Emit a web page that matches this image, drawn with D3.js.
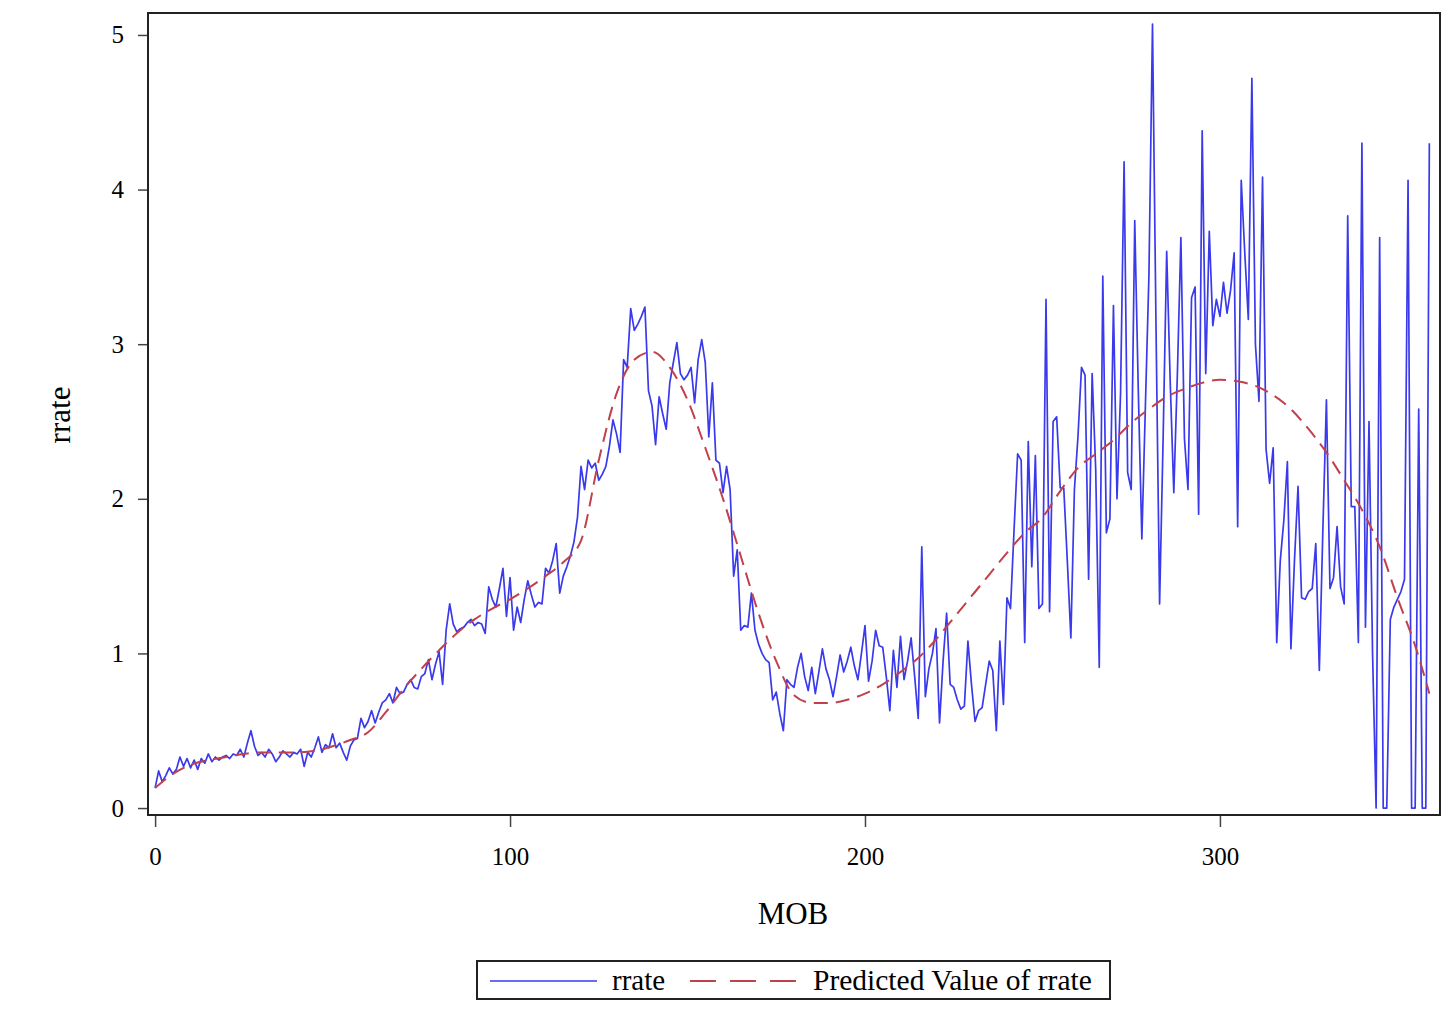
<!DOCTYPE html>
<html>
<head>
<meta charset="utf-8">
<script src="https://cdn.jsdelivr.net/npm/d3@7"></script>
<style>
  body { margin: 0; background: #fff; }
  text { font-family: "Liberation Serif", "DejaVu Serif", serif; fill: #000; }
</style>
</head>
<body>
<div id="chart"></div>
<script>
// rrate by MOB (index = MOB, 0..359)
var rrate = [
  0.13, 0.24, 0.17, 0.21, 0.26, 0.22, 0.25, 0.33, 0.27, 0.32,
  0.26, 0.31, 0.25, 0.32, 0.29, 0.35, 0.30, 0.33, 0.31, 0.33,
  0.34, 0.32, 0.35, 0.34, 0.38, 0.33, 0.42, 0.50, 0.40, 0.34,
  0.36, 0.33, 0.38, 0.35, 0.30, 0.33, 0.37, 0.35, 0.33, 0.36,
  0.35, 0.38, 0.27, 0.36, 0.33, 0.39, 0.46, 0.36, 0.41, 0.39,
  0.48, 0.39, 0.42, 0.36, 0.31, 0.40, 0.44, 0.45, 0.58, 0.52,
  0.56, 0.63, 0.55, 0.62, 0.68, 0.70, 0.74, 0.68, 0.78, 0.74,
  0.75, 0.80, 0.83, 0.78, 0.77, 0.85, 0.87, 0.96, 0.83, 0.93,
  1.01, 0.80, 1.15, 1.32, 1.19, 1.14, 1.16, 1.17, 1.20, 1.22,
  1.18, 1.20, 1.19, 1.13, 1.43, 1.35, 1.30, 1.42, 1.55, 1.24,
  1.49, 1.15, 1.30, 1.20, 1.35, 1.47, 1.38, 1.30, 1.33, 1.32,
  1.55, 1.52, 1.60, 1.71, 1.39, 1.50, 1.56, 1.63, 1.72, 1.88,
  2.21, 2.06, 2.25, 2.20, 2.23, 2.12, 2.16, 2.21, 2.34, 2.51,
  2.42, 2.30, 2.90, 2.85, 3.23, 3.09, 3.13, 3.18, 3.24, 2.70,
  2.60, 2.35, 2.66, 2.55, 2.45, 2.75, 2.88, 3.01, 2.81, 2.77,
  2.80, 2.85, 2.62, 2.90, 3.03, 2.88, 2.40, 2.75, 2.25, 2.23,
  2.04, 2.21, 2.06, 1.50, 1.67, 1.15, 1.18, 1.17, 1.39, 1.15,
  1.06, 1.00, 0.96, 0.94, 0.70, 0.75, 0.61, 0.50, 0.83, 0.80,
  0.78, 0.91, 1.00, 0.85, 0.76, 0.91, 0.74, 0.88, 1.03, 0.90,
  0.83, 0.72, 0.85, 0.99, 0.88, 0.95, 1.04, 0.92, 0.83, 1.00,
  1.18, 0.82, 0.95, 1.15, 1.05, 1.04, 0.85, 0.63, 1.02, 0.78,
  1.11, 0.83, 0.95, 1.10, 0.85, 0.58, 1.69, 0.72, 0.90, 1.00,
  1.16, 0.55, 0.95, 1.26, 0.80, 0.78, 0.70, 0.64, 0.66, 1.08,
  0.80, 0.56, 0.63, 0.65, 0.80, 0.95, 0.89, 0.50, 1.08, 0.67,
  1.36, 1.29, 1.80, 2.29, 2.25, 1.07, 2.37, 1.56, 2.28, 1.29,
  1.32, 3.29, 1.27, 2.50, 2.53, 2.07, 2.07, 1.60, 1.10, 2.06,
  2.40, 2.85, 2.80, 1.48, 2.81, 2.19, 0.91, 3.44, 1.78, 1.87,
  3.25, 2.00, 2.68, 4.18, 2.17, 2.06, 3.80, 2.70, 1.74, 2.60,
  3.45, 5.07, 3.10, 1.32, 2.40, 3.60, 2.75, 2.04, 2.80, 3.69,
  2.39, 2.06, 3.30, 3.37, 1.90, 4.38, 2.81, 3.73, 3.12, 3.29,
  3.18, 3.40, 3.20, 3.35, 3.59, 1.82, 4.06, 3.59, 3.16, 4.72,
  3.00, 2.63, 4.08, 2.32, 2.10, 2.33, 1.07, 1.60, 1.86, 2.24,
  1.03, 1.60, 2.08, 1.36, 1.35, 1.40, 1.42, 1.71, 0.89, 1.80,
  2.64, 1.42, 1.49, 1.82, 1.43, 1.32, 3.83, 1.95, 1.95, 1.07,
  4.30, 1.17, 2.50, 1.00, 0.00, 3.69, 0.00, 0.00, 1.22, 1.30,
  1.35, 1.40, 1.48, 4.06, 0.00, 0.00, 2.58, 0.00, 0.00, 4.30
];

// predicted value of rrate, sampled along the fitted curve
var predMob = [0, 5, 10, 15, 20, 25, 30, 35, 40, 45, 50, 55, 60, 65, 70, 75, 80, 85, 90, 95,
  100, 105, 110, 115, 120, 125, 130, 135, 140, 145, 150, 155, 160, 165, 170, 175, 180, 185, 190, 195,
  200, 205, 210, 215, 220, 225, 230, 235, 240, 245, 250, 255, 260, 265, 270, 275, 280, 285, 290, 295,
  300, 305, 310, 315, 320, 325, 330, 335, 340, 345, 350, 355, 359];
var predicted = [0.13, 0.22, 0.28, 0.31, 0.33, 0.35, 0.36, 0.36, 0.36, 0.37, 0.40, 0.44, 0.49, 0.62, 0.77, 0.90, 1.02, 1.13, 1.22, 1.29,
  1.35, 1.42, 1.50, 1.59, 1.73, 2.25, 2.68, 2.90, 2.95, 2.85, 2.64, 2.33, 2.00, 1.63, 1.26, 0.95, 0.73, 0.68, 0.68, 0.70,
  0.74, 0.80, 0.88, 0.97, 1.09, 1.23, 1.37, 1.51, 1.65, 1.78, 1.88, 2.05, 2.20, 2.29, 2.38, 2.49, 2.58, 2.66, 2.71, 2.75,
  2.77, 2.76, 2.73, 2.67, 2.58, 2.45, 2.30, 2.12, 1.93, 1.69, 1.36, 1.05, 0.74];

var xTicks = [0, 100, 200, 300];
var yTicks = [0, 1, 2, 3, 4, 5];

var width = 1453, height = 1021;
var margin = {top: 13, right: 13, bottom: 206, left: 148};

var svg = d3.select("#chart")
  .append("svg")
  .attr("width", width)
  .attr("height", height);

// scales
var xScale = d3.scaleLinear()
  .domain([-2, 362])
  .range([margin.left, width - margin.right]);

var yScale = d3.scaleLinear()
  .domain([-0.045, 5.142])
  .range([height - margin.bottom, margin.top]);

// axes
var yAxis = d3.axisLeft(yScale)
  .tickValues(yTicks)
  .tickSize(10)
  .tickPadding(14)
  .tickFormat(d => d);

var xAxis = d3.axisBottom(xScale)
  .tickValues(xTicks)
  .tickSize(12)
  .tickPadding(20)
  .tickFormat(d => d);

svg.append("g")
  .attr("class", "y-axis")
  .attr("transform", `translate(${margin.left},0)`)
  .call(yAxis)
  .call(g => g.select(".domain").remove())
  .call(g => g.selectAll("line").attr("stroke", "#444").attr("stroke-width", 1.5))
  .selectAll("text")
  .style("font-size", "25px");

svg.append("g")
  .attr("class", "x-axis")
  .attr("transform", `translate(0,${height - margin.bottom})`)
  .call(xAxis)
  .call(g => g.select(".domain").remove())
  .call(g => g.selectAll("line").attr("stroke", "#444").attr("stroke-width", 1.5))
  .selectAll("text")
  .style("font-size", "25px");

// lines
var rrateLine = d3.line()
  .x((d, i) => xScale(i))
  .y(d => yScale(d));

var predLine = d3.line()
  .x((d, i) => xScale(predMob[i]))
  .y(d => yScale(d))
  .curve(d3.curveMonotoneX);

svg.append("path")
  .datum(rrate)
  .attr("class", "line rrate")
  .attr("d", rrateLine)
  .attr("fill", "none")
  .attr("stroke", "#3a3aec")
  .attr("stroke-width", 1.7)
  .attr("stroke-linejoin", "round");

svg.append("path")
  .datum(predicted)
  .attr("class", "line predicted")
  .attr("d", predLine)
  .attr("fill", "none")
  .attr("stroke", "#c0414b")
  .attr("stroke-width", 2)
  .attr("stroke-dasharray", "14,8");

// frame
svg.append("rect")
  .attr("x", margin.left)
  .attr("y", margin.top)
  .attr("width", width - margin.left - margin.right)
  .attr("height", height - margin.top - margin.bottom)
  .attr("fill", "none")
  .attr("stroke", "#222")
  .attr("stroke-width", 2);

// axis titles
svg.append("text")
  .attr("x", 793)
  .attr("y", 924)
  .attr("text-anchor", "middle")
  .style("font-size", "31px")
  .text("MOB");

svg.append("text")
  .attr("transform", "translate(70,415) rotate(-90)")
  .attr("text-anchor", "middle")
  .style("font-size", "31px")
  .text("rrate");

// legend
var legend = svg.append("g")
  .attr("class", "legend");

legend.append("rect")
  .attr("x", 477)
  .attr("y", 961)
  .attr("width", 633)
  .attr("height", 38)
  .attr("fill", "#fff")
  .attr("stroke", "#222")
  .attr("stroke-width", 2);

legend.append("line")
  .attr("x1", 490).attr("x2", 597)
  .attr("y1", 981).attr("y2", 981)
  .attr("stroke", "#3a3aec")
  .attr("stroke-width", 1.7);

legend.append("text")
  .attr("x", 612)
  .attr("y", 990)
  .style("font-size", "29px")
  .text("rrate");

legend.append("line")
  .attr("x1", 690).attr("x2", 796)
  .attr("y1", 981).attr("y2", 981)
  .attr("stroke", "#c0414b")
  .attr("stroke-width", 2)
  .attr("stroke-dasharray", "26,14");

legend.append("text")
  .attr("x", 813)
  .attr("y", 990)
  .style("font-size", "29.5px")
  .text("Predicted Value of rrate");
</script>
</body>
</html>
